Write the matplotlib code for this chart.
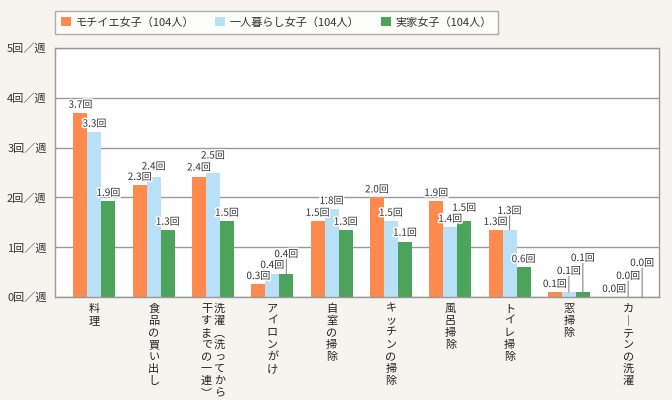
import numpy as np
import matplotlib
matplotlib.use("Agg")
import matplotlib.pyplot as plt
import matplotlib.patheffects as pe

plt.rcParams['font.family'] = ['Noto Sans CJK JP', 'DejaVu Sans']

categories = ["料理", "食品の買い出し", "洗濯（洗ってから\n干すまでの一連）", "アイロンがけ",
              "自室の掃除", "キッチンの掃除", "風呂掃除", "トイレ掃除", "窓掃除", "カーテンの洗濯"]
series_names = ["モチイエ女子（104人）", "一人暮らし女子（104人）", "実家女子（104人）"]

mochiie = [3.70, 2.25, 2.40, 0.26, 1.53, 2.00, 1.93, 1.35, 0.10, 0.0]
hitori = [3.32, 2.40, 2.50, 0.46, 1.77, 1.53, 1.41, 1.35, 0.10, 0.0]
jikka = [1.93, 1.35, 1.53, 0.46, 1.35, 1.11, 1.53, 0.60, 0.10, 0.0]
mochiie_lbl = [3.7, 2.3, 2.4, 0.3, 1.5, 2.0, 1.9, 1.3, 0.1, 0.0]
hitori_lbl = [3.3, 2.4, 2.5, 0.4, 1.8, 1.5, 1.4, 1.3, 0.1, 0.0]
jikka_lbl = [1.9, 1.3, 1.5, 0.4, 1.3, 1.1, 1.5, 0.6, 0.1, 0.0]

yticks = [0, 1, 2, 3, 4, 5]

colors = ["#FF8A4E", "#B8E1F7", "#4CA45C"]
# extra lift of each value label (pixels) so they don't collide
lifts = [
    [0, 0, 2, 0, 0, 0, 0, 0, 0, 0],
    [0, 3, 9, 1, 0, 0, 0, 11, 13, 13],
    [0, 0, 0, 12, 0, 1, 5, 0, 26, 26],
]

fig = plt.figure(figsize=(6.72, 4), dpi=100)
fig.patch.set_facecolor("#F5F4EE")
ax = fig.add_axes([55/672, 1-297/400, 604/672, 249/400])
ax.set_facecolor("white")

x = np.arange(len(categories))
w = 0.236
px = 0.72  # points per pixel

for k, (vals, lbls) in enumerate([(mochiie, mochiie_lbl), (hitori, hitori_lbl), (jikka, jikka_lbl)]):
    xs = x + (k - 1) * w
    ax.bar(xs, vals, width=w, color=colors[k], label=series_names[k], zorder=2)
    for i in range(len(xs)):
        lift = lifts[k][i]
        t = ax.annotate(f"{lbls[i]:.1f}回", xy=(xs[i], vals[i]),
                        xytext=(0, (3 + lift) * px), textcoords="offset points",
                        ha="center", va="bottom", fontsize=7.2, color="#333333", zorder=4)
        t.set_path_effects([pe.withStroke(linewidth=2.2, foreground="white")])
        if lift >= 10:
            ax.annotate("", xy=(xs[i], vals[i]), xycoords="data",
                        xytext=(0, (lift + 3) * px), textcoords="offset points",
                        arrowprops=dict(arrowstyle="-", color="#888888", lw=0.8,
                                        shrinkA=0, shrinkB=0), zorder=3)

ax.set_ylim(0, 5)
ax.set_xlim(-0.665, 9.52)
ax.set_yticks(yticks)
ax.set_yticklabels([f"{v}回／週" for v in yticks], fontsize=8, color="#333333")
ax.tick_params(axis="y", length=0, pad=6)
ax.set_xticks([])
ax.yaxis.grid(True, color="#999999", lw=1)
ax.set_axisbelow(True)
for s in ax.spines.values():
    s.set_color("#999999")
    s.set_linewidth(1)

# vertical category labels, one character at a time
for i, c in enumerate(categories):
    cols = c.split("\n")
    n = len(cols)
    for j, col in enumerate(cols):
        col = col.replace("（", "︵").replace("）", "︶").replace("ー", "｜")
        off = (n - 1) / 2 - j  # first column on the right
        for m, ch in enumerate(col):
            ax.annotate(ch, xy=(x[i], 0), xycoords="data",
                        xytext=(off * 13 * px, -(12 + 12 * m) * px), textcoords="offset points",
                        ha="center", va="center", fontsize=8, color="#222222",
                        annotation_clip=False)

leg = fig.legend(loc="upper left", bbox_to_anchor=(55/672, 1-11/400), ncol=3,
                 fontsize=8, frameon=True, fancybox=False, handlelength=0.9,
                 handleheight=0.9, handletextpad=0.4, columnspacing=1.9,
                 borderpad=0.55, borderaxespad=0)
leg.get_frame().set_edgecolor("#999999")
leg.get_frame().set_linewidth(1)
for t in leg.get_texts():
    t.set_color("#333333")

fig.savefig("out.png", dpi=100, facecolor=fig.get_facecolor())
